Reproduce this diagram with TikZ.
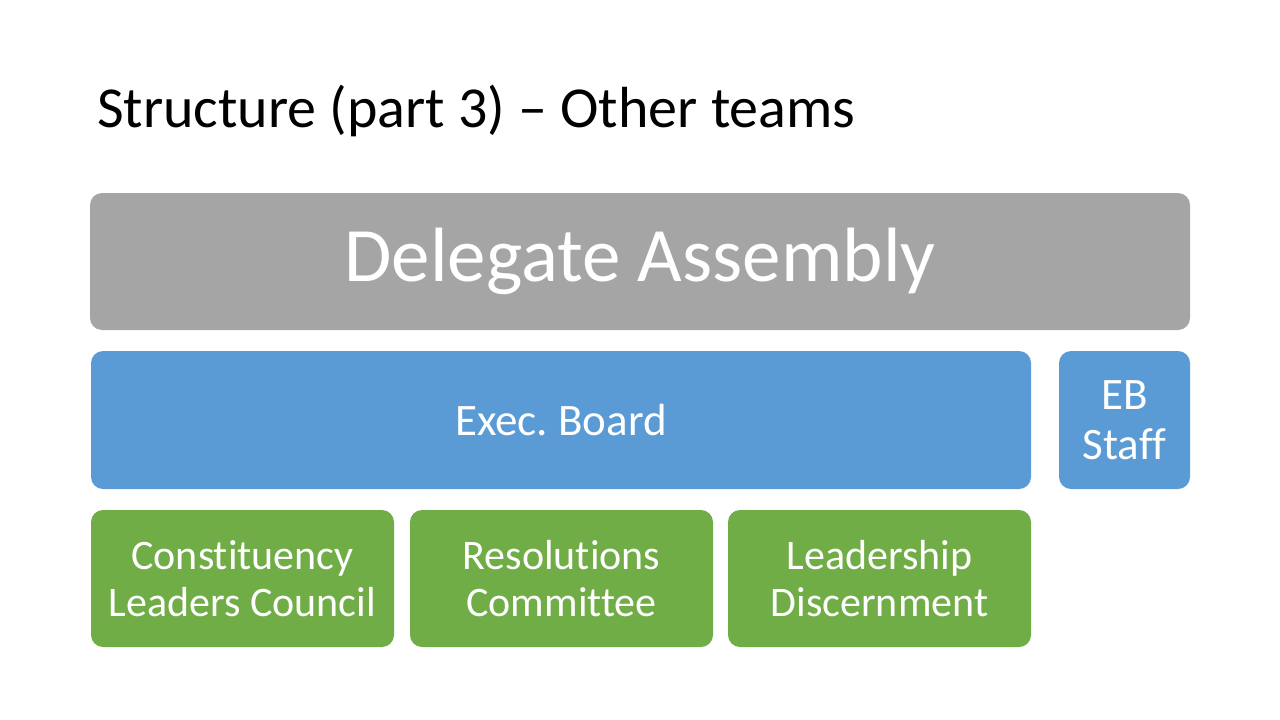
\documentclass[tikz,border=0pt]{standalone}
\usepackage{fontspec}
\setmainfont{Carlito}[Ligatures=NoCommon]
\definecolor{dagray}{HTML}{A5A5A5}
\definecolor{ebblue}{HTML}{5B9BD5}
\definecolor{teamgreen}{HTML}{70AD47}
\frenchspacing

\tikzstyle{teambox}=[
    rounded corners=12pt,
    text=white,
    align=center,
    inner sep=0pt,
    font=\fontsize{42}{47}\selectfont,
  ]
\tikzstyle{bluebox}=[
    teambox,
    fill=ebblue,
    minimum height=138pt,
    font=\fontsize{45}{50}\selectfont,
  ]
\tikzstyle{greenbox}=[
    teambox,
    fill=teamgreen,
    minimum width=303pt,
    minimum height=137pt,
  ]

\begin{document}
\begin{tikzpicture}[x=1pt,y=-1pt]
      \useasboundingbox (0,0) rectangle (1280,720);
      \node[anchor=base west, inner sep=0pt, font=\fontsize{58}{64}\selectfont] (title) at (97,127) {Structure (part 3) -- Other teams};
      \node[teambox, fill=dagray, minimum width=1100pt, minimum height=137pt, font=\fontsize{77}{84}\selectfont] (da) at (640,261.5) {Delegate Assembly};
      \node[bluebox, minimum width=940pt] (eb) at (561,420) {Exec. Board};
      \node[bluebox, minimum width=131pt] (ebstaff) at (1124.5,420) {EB\\Staff};
      \node[greenbox] (clc) at (242.5,578.5) {Constituency\\Leaders Council};
      \node[greenbox] (rc) at (561.5,578.5) {Resolutions\\Committee};
      \node[greenbox] (ld) at (879.5,578.5) {Leadership\\Discernment};
    \end{tikzpicture}
\end{document}
